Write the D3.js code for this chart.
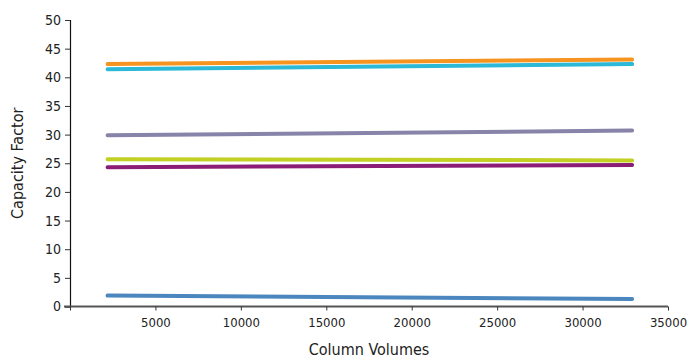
<!DOCTYPE html>
<html>
<head>
<meta charset="utf-8">
<script src="https://cdn.jsdelivr.net/npm/d3@7"></script>
<style>
  body { margin: 0; background: #fff; }
  svg { display: block; }
  text { font-family: "Liberation Sans Narrow", "DejaVu Sans Condensed", "Roboto", sans-serif; fill: #222; }
</style>
</head>
<body>
<svg id="chart" width="687" height="360"></svg>
<script>
// Data
const xValues = [2200, 32900];
const seriesNames = ["orange", "cyan", "purple", "yellow", "magenta", "blue"];
const seriesColors = ["#F6941F", "#2BB9D7", "#8783A9", "#C2CF23", "#8C1D76", "#4B87BE"];
const orangeValues  = [42.3, 43.1];
const cyanValues    = [41.4, 42.3];
const purpleValues  = [29.9, 30.7];
const yellowValues  = [25.7, 25.5];
const magentaValues = [24.3, 24.7];
const blueValues    = [1.9, 1.3];
const seriesValues = [orangeValues, cyanValues, purpleValues, yellowValues, magentaValues, blueValues];
const xTicks = [5000, 10000, 15000, 20000, 25000, 30000, 35000];
const yTicks = [0, 5, 10, 15, 20, 25, 30, 35, 40, 45, 50];
const xTitle = "Column Volumes";
const yTitle = "Capacity Factor";

const svg = d3.select("#chart");
const margin = { left: 70, right: 19, top: 20, bottom: 53.5 };
const W = 687, H = 360;

const x = d3.scaleLinear().domain([0, 35000]).range([margin.left, W - margin.right]);
const y = d3.scaleLinear().domain([0, 50]).range([H - margin.bottom, margin.top]);

// Y axis
const yAxis = svg.append("g")
  .attr("transform", `translate(${margin.left},0)`)
  .call(d3.axisLeft(y).tickValues(yTicks).tickSize(5).tickPadding(4).tickFormat(d3.format("d")));
yAxis.select(".domain").attr("stroke", "#111").attr("stroke-width", 1.2);
yAxis.selectAll(".tick line").attr("stroke", "#333");
yAxis.selectAll(".tick text").style("font-size", "14px").attr("fill", "#222");

// X axis
const xAxis = svg.append("g")
  .attr("transform", `translate(0,${y(0)})`)
  .call(d3.axisBottom(x).tickValues([0].concat(xTicks)).tickSize(4).tickPadding(7)
    .tickFormat(d => d === 0 ? "" : d3.format("d")(d)));
xAxis.select(".domain").attr("stroke", "#555").attr("stroke-width", 1.8)
  .attr("d", `M${margin.left - 6},0H${x(35000)}`);
xAxis.selectAll(".tick line").attr("stroke", "#333");
xAxis.selectAll(".tick text").style("font-size", "13px").attr("fill", "#222");

// Lines
const line = d3.line().x((d, i) => x(xValues[i])).y(d => y(d));
svg.append("g").selectAll("path")
  .data(seriesValues)
  .join("path")
  .attr("d", d => line(d))
  .attr("fill", "none")
  .attr("stroke", (d, i) => seriesColors[i])
  .attr("stroke-width", 4)
  .attr("stroke-linecap", "round");

// Titles
svg.append("text")
  .attr("x", (margin.left + W - margin.right) / 2)
  .attr("y", 355)
  .attr("text-anchor", "middle")
  .style("font-size", "16px")
  .text(xTitle);

svg.append("text")
  .attr("transform", `translate(23,${y(25)}) rotate(-90)`)
  .attr("text-anchor", "middle")
  .style("font-size", "16px")
  .text(yTitle);
</script>
</body>
</html>
